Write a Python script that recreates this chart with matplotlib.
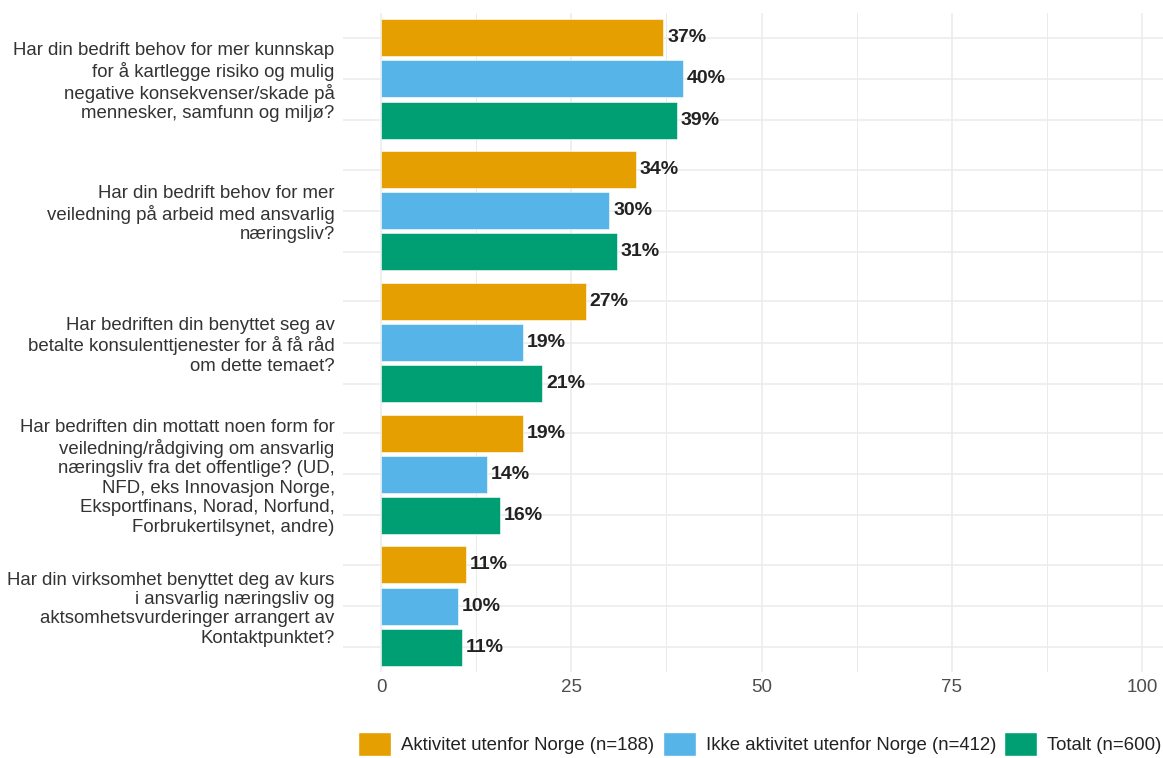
import matplotlib
matplotlib.use("Agg")
import matplotlib.pyplot as plt
from matplotlib.patches import Patch
import numpy as np

plt.rcParams['font.family'] = ['Liberation Sans', 'DejaVu Sans']

# data (percent)
questions = [
    "Har din bedrift behov for mer kunnskap\nfor å kartlegge risiko og mulig\nnegative konsekvenser/skade på\nmennesker, samfunn og miljø?",
    "Har din bedrift behov for mer\nveiledning på arbeid med ansvarlig\nnæringsliv?",
    "Har bedriften din benyttet seg av\nbetalte konsulenttjenester for å få råd\nom dette temaet?",
    "Har bedriften din mottatt noen form for\nveiledning/rådgiving om ansvarlig\nnæringsliv fra det offentlige? (UD,\nNFD, eks Innovasjon Norge,\nEksportfinans, Norad, Norfund,\nForbrukertilsynet, andre)",
    "Har din virksomhet benyttet deg av kurs\ni ansvarlig næringsliv og\naktsomhetsvurderinger arrangert av\nKontaktpunktet?",
]
groups = ["Aktivitet utenfor Norge (n=188)", "Ikke aktivitet utenfor Norge (n=412)", "Totalt (n=600)"]
aktivitet = [37.1, 33.5, 26.9, 18.6, 11.2]
ikke_aktivitet = [39.7, 30.0, 18.6, 13.9, 10.1]
totalt = [38.9, 31.0, 21.2, 15.6, 10.6]
colors = ["#E69F00", "#56B4E9", "#009E73"]

series = [aktivitet, ikke_aktivitet, totalt]
pitch = 3.2  # distance between question groups (in bar units)

fig = plt.figure(figsize=(11.63, 7.58), dpi=100)
W, H = 1163, 758
ax = fig.add_axes([343 / W, 1 - 672 / H, (1180 - 343) / W, (672 - 13) / H])

ticks, ticklabels = [], []
for i, q in enumerate(questions):
    for j, vals in enumerate(series):
        y = pitch * i + j
        ax.barh(y, vals[i], height=0.9, color=colors[j], edgecolor='white',
                linewidth=0.4, zorder=2)
        ax.text(vals[i] + 0.5, y, f"{int(vals[i] + 0.5)}%", va='center', ha='left',
                fontsize=14, fontweight='bold', color='#222222', zorder=3)
        ticks.append(y)
        ticklabels.append(q if j == 1 else "")

ax.set_yticks(ticks)
ax.set_yticklabels(ticklabels, fontsize=13.4, color='#333333', linespacing=1.18)
ax.set_ylim(pitch * 4 + 2.6, -0.6)
ax.set_xlim(-5, 105)
ax.set_xticks([0, 25, 50, 75, 100])
ax.set_xticks([12.5, 37.5, 62.5, 87.5], minor=True)
ax.tick_params(axis='x', labelsize=13.5, colors='#4D4D4D', length=0, pad=5, which='both')
ax.tick_params(axis='y', length=0, pad=6)
ax.grid(True, which='major', color='#EBEBEB', linewidth=1.1, zorder=0)
ax.grid(True, which='minor', axis='x', color='#EBEBEB', linewidth=0.7, zorder=0)
ax.set_axisbelow(True)
for s in ax.spines.values():
    s.set_visible(False)

# legend kept just inside the right edge so no text is cut off
handles = [Patch(facecolor=c, edgecolor='white', label=g) for c, g in zip(colors, groups)]
fig.legend(handles=handles, loc='center', bbox_to_anchor=(760 / W, 1 - 744 / H), ncol=3,
           frameon=False, fontsize=13.4, handlelength=1.77, handleheight=1.6,
           handletextpad=0.55, columnspacing=0.43, labelcolor='#222222',
           borderaxespad=0, borderpad=0)

fig.savefig("out.png", dpi=100)
